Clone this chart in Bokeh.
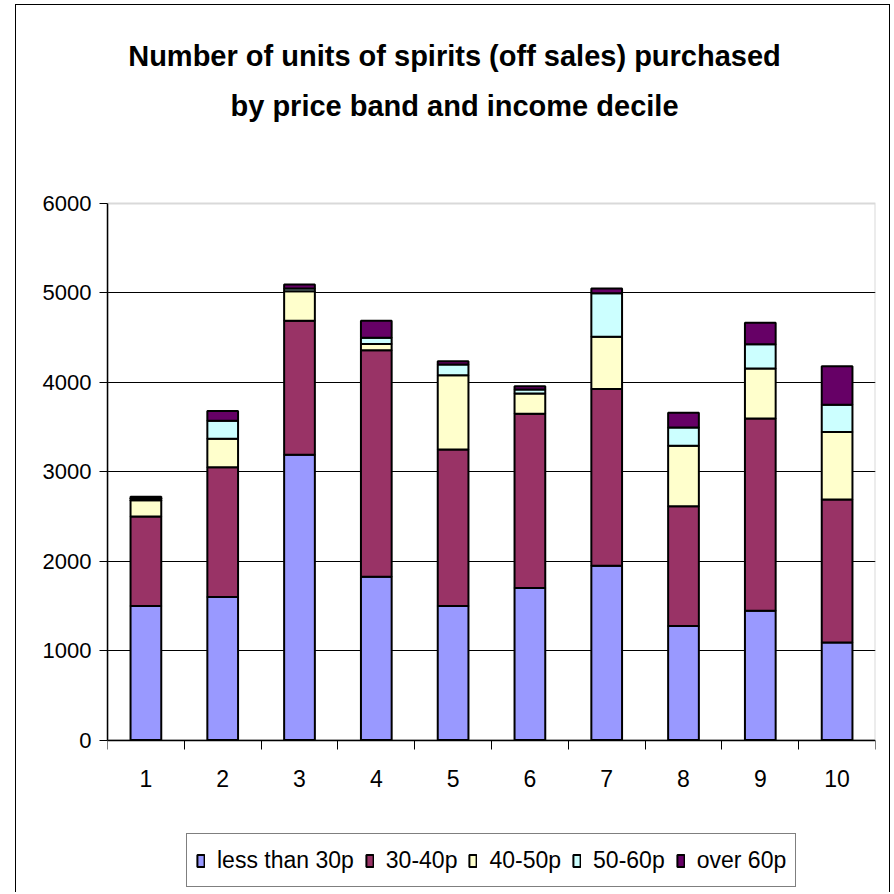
from bokeh.plotting import figure
from bokeh.models import (Range1d, FixedTicker, Legend, LegendItem, Label,
                          BoxAnnotation, InlineStyleSheet)
from bokeh.embed import file_html
from bokeh.resources import INLINE

deciles = [1, 2, 3, 4, 5, 6, 7, 8, 9, 10]
bands = ["less than 30p", "30-40p", "40-50p", "50-60p", "over 60p"]
less_than_30p = [1500, 1600, 3190, 1825, 1500, 1700, 1950, 1275, 1445, 1090]
p30_40 = [1000, 1450, 1500, 2535, 1750, 1950, 1975, 1340, 2150, 1600]
p40_50 = [180, 320, 330, 70, 830, 225, 585, 675, 560, 755]
p50_60 = [20, 200, 30, 70, 120, 45, 485, 205, 270, 305]
over_60p = [20, 110, 45, 190, 35, 35, 55, 165, 240, 430]
y_ticks = [0, 1000, 2000, 3000, 4000, 5000, 6000]
title_lines = ["Number of units of spirits (off sales) purchased",
               "by price band and income decile"]
colors = ["#9999FF", "#993366", "#FFFFCC", "#CCFFFF", "#660066"]

keys = ["b0", "b1", "b2", "b3", "b4"]
data = {"x": deciles, "b0": less_than_30p, "b1": p30_40, "b2": p40_50,
        "b3": p50_60, "b4": over_60p}

# layout (pixels)
W, H = 890, 892
plot_top_px, plot_bottom_px = 203, 739.5
y_min, y_max = y_ticks[0], y_ticks[-1]
px_per_unit = (plot_bottom_px - plot_top_px) / (y_max - y_min)
y_start = y_min - (H - plot_bottom_px) / px_per_unit
y_end = y_max + plot_top_px / px_per_unit
x_lo, x_hi = deciles[0] - 0.5, deciles[-1] + 0.5

border_css = InlineStyleSheet(css="""
:host { position: relative; }
:host::after { content: ""; position: absolute; left: 15px; top: 4px; right: 0px;
  bottom: 0px; border: 1.5px solid black; border-bottom: none;
  pointer-events: none; z-index: 10; }
""")
p = figure(width=W, height=H, output_backend="svg", toolbar_location=None,
           x_range=Range1d(x_lo, x_hi), y_range=Range1d(y_start, y_end),
           min_border_left=107, min_border_right=15, min_border_top=0,
           min_border_bottom=0)
p.stylesheets = [border_css]
p.background_fill_color = "white"
p.border_fill_color = "white"
p.outline_line_color = None

# plot-area border (grey)
p.add_layout(BoxAnnotation(left=x_lo, right=x_hi, bottom=y_min, top=y_max,
                           fill_alpha=0, line_color="#808080", line_width=2,
                           level="underlay"))

renderers = p.vbar_stack(keys, x="x", width=0.4, source=data, color=colors,
                         line_color="black", line_width=2)

# axes
xa = p.xaxis[0]
xa.fixed_location = 0
xa.bounds = (x_lo, x_hi)
xa.ticker = FixedTicker(ticks=deciles, minor_ticks=[d - 0.5 for d in deciles] + [x_hi])
xa.major_tick_line_color = None
xa.minor_tick_line_color = "black"
xa.minor_tick_out = 9
xa.minor_tick_in = 0
xa.axis_line_color = "black"
xa.axis_line_width = 1.5
xa.major_label_text_font = "Liberation Sans"
xa.major_label_text_font_size = "23px"
xa.major_label_text_color = "black"
xa.major_label_standoff = 21

ya = p.yaxis[0]
ya.bounds = (y_min, y_max)
ya.ticker = FixedTicker(ticks=y_ticks)
ya.minor_tick_line_color = None
ya.major_tick_out = 8
ya.major_tick_in = 0
ya.major_tick_line_color = "black"
ya.axis_line_color = "black"
ya.axis_line_width = 1.5
ya.major_label_text_font = "Liberation Sans"
ya.major_label_text_font_size = "22px"
ya.major_label_text_color = "black"
ya.major_label_standoff = 8

p.xgrid.grid_line_color = None
p.ygrid.ticker = FixedTicker(ticks=y_ticks[1:-1])
p.ygrid.grid_line_color = "black"
p.ygrid.grid_line_width = 1

# legend
items = [LegendItem(label=b, renderers=[r]) for b, r in zip(bands, renderers)]
legend = Legend(items=items, orientation="horizontal", location=(79, 5),
                label_text_font="Liberation Sans", label_text_font_size="23px",
                label_text_color="black", glyph_width=9, glyph_height=15,
                label_standoff=12, spacing=11, padding=9, margin=0,
                label_height=34,
                border_line_color="black", border_line_width=1.2,
                background_fill_color="white")
p.add_layout(legend, "center")

# title lines
for t, yb in zip(title_lines, [55, 105]):
    p.add_layout(Label(x=454, y=yb, x_units="canvas", y_units="canvas",
                       text=t, text_align="center", text_baseline="alphabetic",
                       text_font="Liberation Sans", text_font_style="bold",
                       text_font_size="29px", text_color="black"))

open("out.html", "w").write(file_html(p, INLINE))
